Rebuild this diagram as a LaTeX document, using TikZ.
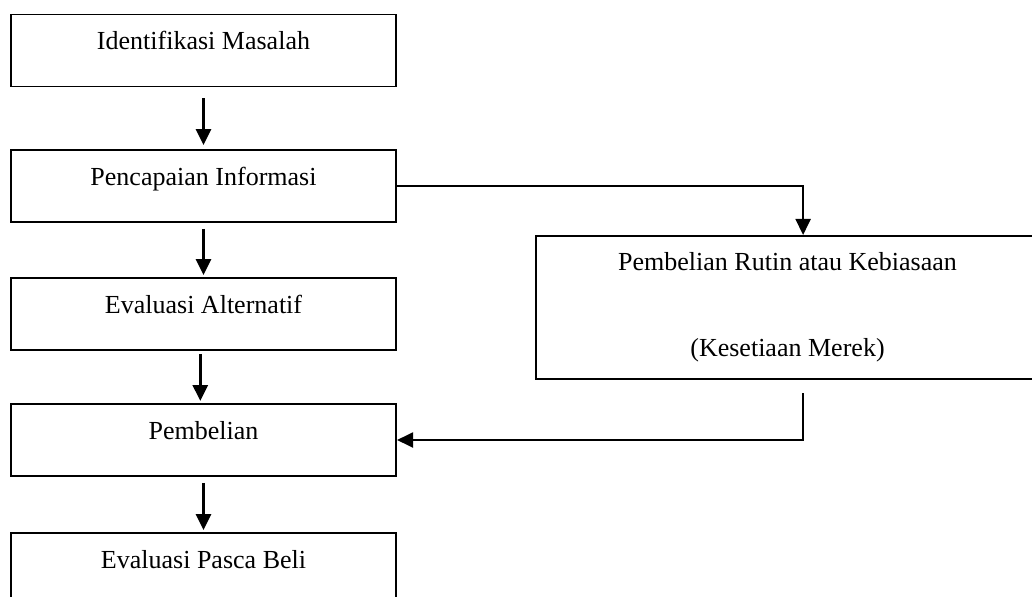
\documentclass[tikz,border=0pt]{standalone}
\usepackage{fontspec}
\setmainfont{Liberation Serif}
\usetikzlibrary{arrows.meta,positioning}

\begin{document}
\begin{tikzpicture}[x=0.025cm, y=-0.025cm,
    box/.style={draw, line width=1.4pt, minimum width=9.625cm, minimum height=1.8cm, inner sep=0pt},
    txt/.style={anchor=base, inner sep=0pt, font=\fontsize{18.5}{22}\selectfont},
    down/.style={-{Triangle[width=0.375cm, length=0.4cm]}, line width=2.1pt},
    link/.style={-{Triangle[width=0.375cm, length=0.4cm]}, line width=1.4pt}]

    % Frame
    \useasboundingbox (0,0) rectangle (1032,597);
    \clip (0,0) rectangle (1032,597);

    % Main steps
    \node[box] (masalah) at (203.5,50.5) {};
    \node[box] (info) at (203.5,186) {};
    \node[box] (alternatif) at (203.5,314) {};
    \node[box] (beli) at (203.5,440) {};
    \node[box] (pasca) at (203.5,569) {};

    \node[txt] (tmasalah) at ([yshift=-0.9cm]masalah.north) {Identifikasi Masalah};
    \node[txt] (tinfo) at ([yshift=-0.9cm]info.north) {Pencapaian Informasi};
    \node[txt] (talternatif) at ([yshift=-0.9cm]alternatif.north) {Evaluasi Alternatif};
    \node[txt] (tbeli) at ([yshift=-0.9cm]beli.north) {Pembelian};
    \node[txt] (tpasca) at ([yshift=-0.9cm]pasca.north) {Evaluasi Pasca Beli};

    % Routine purchase
    \node[box, minimum width=12.575cm, minimum height=3.575cm] (rutin) at (787.5,307.5) {};
    \node[txt] (trutin) at ([yshift=-0.875cm]rutin.north) {Pembelian Rutin atau Kebiasaan};
    \node[txt] (tmerek) at ([yshift=-3.03cm]rutin.north) {(Kesetiaan Merek)};

    % Arrows down
    \draw[down, shorten <=0.275cm, shorten >=0.1cm] (masalah.south) -- (info.north);
    \draw[down, shorten <=0.15cm, shorten >=0.05cm] (info.south) -- (alternatif.north);
    \draw[down, shorten <=0.075cm, shorten >=0.05cm] ([xshift=-0.08cm]alternatif.south) -- ([xshift=-0.08cm]beli.north);
    \draw[down, shorten <=0.15cm, shorten >=0.05cm] (beli.south) -- (pasca.north);

    % Side path
    \coordinate (rin) at ([xshift=0.39cm]rutin.north);
    \coordinate (rout) at ([xshift=0.39cm, yshift=-0.325cm]rutin.south);
    \draw[link] (info.east) -| (rin);
    \draw[link] (rout) |- (beli.east);
\end{tikzpicture}
\end{document}
